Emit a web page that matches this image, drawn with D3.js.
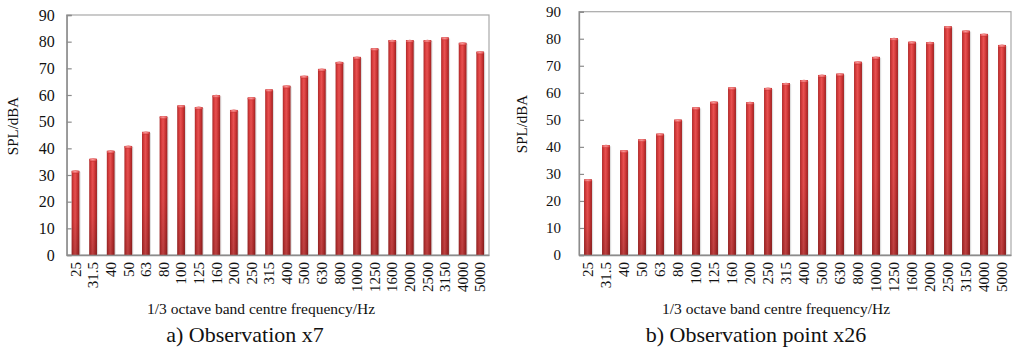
<!DOCTYPE html>
<html>
<head>
<meta charset="utf-8">
<script src="https://cdn.jsdelivr.net/npm/d3@7/dist/d3.min.js"></script>
<style>
  html, body { margin: 0; padding: 0; background: #fff; }
  svg { display: block; }
  text { font-family: "Liberation Serif", "Times New Roman", serif; fill: #111; }
</style>
</head>
<body>
<svg id="chart" width="1014" height="349"></svg>
<script>
// 1/3 octave band centre frequencies (Hz)
const bands = ["25", "31.5", "40", "50", "63", "80", "100", "125", "160", "200", "250", "315",
               "400", "500", "630", "800", "1000", "1250", "1600", "2000", "2500", "3150", "4000", "5000"];

// Sound pressure level, dBA, at observation x7
const splX7 = [31.6, 36.1, 39.1, 40.9, 46.2, 52.0, 56.1, 55.5, 59.9, 54.4, 59.1, 62.1,
               63.5, 67.2, 69.8, 72.4, 74.3, 77.5, 80.6, 80.6, 80.6, 81.6, 79.6, 76.3];

// Sound pressure level, dBA, at observation point x26
const splX26 = [28.0, 40.6, 38.7, 42.8, 44.9, 50.1, 54.6, 56.7, 62.0, 56.5, 61.8, 63.6,
                64.7, 66.6, 67.1, 71.5, 73.3, 80.2, 78.9, 78.7, 84.6, 83.0, 81.8, 77.7];

// Y axis ticks
const yTicks = [0, 10, 20, 30, 40, 50, 60, 70, 80, 90];

const yTitle = "SPL/dBA";
const xTitle = "1/3 octave band centre frequency/Hz";

const svg = d3.select("#chart");
const defs = svg.append("defs");

// Cylinder-like shading for the bars
const hGrad = defs.append("linearGradient").attr("id", "barH")
  .attr("x1", "0").attr("y1", "0").attr("x2", "1").attr("y2", "0");
[["0%", "#ad2a2a"], ["25%", "#dc3e3e"], ["45%", "#e85252"], ["70%", "#d33838"], ["100%", "#9e2121"]]
  .forEach(([o, c]) => hGrad.append("stop").attr("offset", o).attr("stop-color", c));

const vGrad = defs.append("linearGradient").attr("id", "barV")
  .attr("x1", "0").attr("y1", "0").attr("x2", "0").attr("y2", "1");
[["0%", "#000", 0], ["60%", "#000", 0.05], ["100%", "#000", 0.2]]
  .forEach(([o, c, a]) => vGrad.append("stop").attr("offset", o).attr("stop-color", c).attr("stop-opacity", a));

const capGrad = defs.append("radialGradient").attr("id", "barCap")
  .attr("cx", "0.45").attr("cy", "0.4").attr("r", "0.6");
[["0%", "#f6a0a0"], ["60%", "#e86060"], ["100%", "#c83232"]]
  .forEach(([o, c]) => capGrad.append("stop").attr("offset", o).attr("stop-color", c));

function drawPanel(cfg) {
  const g = svg.append("g");
  const x = d3.scaleBand().domain(bands).range([cfg.left, cfg.right]).paddingInner(0.56).paddingOuter(0.28);
  const y = d3.scaleLinear().domain([0, 90]).range([cfg.bottom, cfg.top]);

  // plot frame
  g.append("rect")
    .attr("x", cfg.left).attr("y", cfg.top)
    .attr("width", cfg.right - cfg.left).attr("height", cfg.bottom - cfg.top)
    .attr("fill", "none").attr("stroke", "#a8a8a8").attr("stroke-width", 1.2);

  // bars
  const bars = g.append("g").selectAll("g").data(cfg.values).join("g")
    .attr("transform", (d, i) => `translate(${x(bands[i])},0)`);
  const bw = x.bandwidth();

  bars.append("rect") // soft shadow
    .attr("x", 1.2).attr("y", d => y(d) + 1).attr("width", bw).attr("height", d => y(0) - y(d) - 1)
    .attr("fill", "#c8c8c8").attr("opacity", 0.6);
  bars.append("rect")
    .attr("x", 0).attr("y", d => y(d)).attr("width", bw).attr("height", d => y(0) - y(d))
    .attr("fill", "url(#barH)");
  bars.append("rect")
    .attr("x", 0).attr("y", d => y(d)).attr("width", bw).attr("height", d => y(0) - y(d))
    .attr("fill", "url(#barV)");
  bars.append("ellipse")
    .attr("cx", bw / 2).attr("cy", d => y(d) + 1.2).attr("rx", bw / 2).attr("ry", 1.6)
    .attr("fill", "url(#barCap)");

  // left and bottom axes
  const yAxis = d3.axisLeft(y).tickValues(yTicks).tickSize(-5).tickPadding(0).tickFormat(d3.format("d"));
  const ya = g.append("g").attr("transform", `translate(${cfg.left},0)`).call(yAxis);
  ya.select(".domain").attr("stroke", "#8c8c8c").attr("stroke-width", 1.3);
  ya.selectAll(".tick line").attr("stroke", "#8c8c8c").attr("stroke-width", 1.2);
  ya.selectAll(".tick text")
    .attr("x", -cfg.yLabelGap).attr("font-size", cfg.yFont)
    .attr("fill", "#111");

  const xAxis = d3.axisBottom(x).tickSize(0).tickPadding(0);
  const xa = g.append("g").attr("transform", `translate(0,${cfg.bottom})`).call(xAxis);
  xa.select(".domain").attr("stroke", "#8c8c8c").attr("stroke-width", 1.3);
  xa.selectAll(".tick text")
    .attr("transform", "rotate(-90)")
    .attr("x", -7).attr("y", 0).attr("dy", "0.35em")
    .attr("text-anchor", "end")
    .attr("font-size", 15).attr("fill", "#111");

  // axis titles
  g.append("text")
    .attr("transform", `translate(${cfg.yTitleX},${cfg.yTitleY}) rotate(-90)`)
    .attr("text-anchor", "middle").attr("dy", "0.35em")
    .attr("font-size", 15).text(yTitle);
  g.append("text")
    .attr("x", cfg.xTitleX).attr("y", 314)
    .attr("text-anchor", "middle").attr("font-size", 15.5).text(xTitle);

  // caption
  g.append("text")
    .attr("x", cfg.captionX).attr("y", 342)
    .attr("text-anchor", "middle").attr("font-size", 22).text(cfg.caption);
}

drawPanel({
  values: splX7, left: 66.7, right: 489, top: 15, bottom: 255,
  yFont: 16, yLabelGap: 12, yTitleX: 13, yTitleY: 126,
  xTitleX: 261, captionX: 245, caption: "a) Observation x7"
});

drawPanel({
  values: splX26, left: 579, right: 1011, top: 11.7, bottom: 255,
  yFont: 15, yLabelGap: 18, yTitleX: 522, yTitleY: 124,
  xTitleX: 776, captionX: 756, caption: "b) Observation point x26"
});
</script>
</body>
</html>
